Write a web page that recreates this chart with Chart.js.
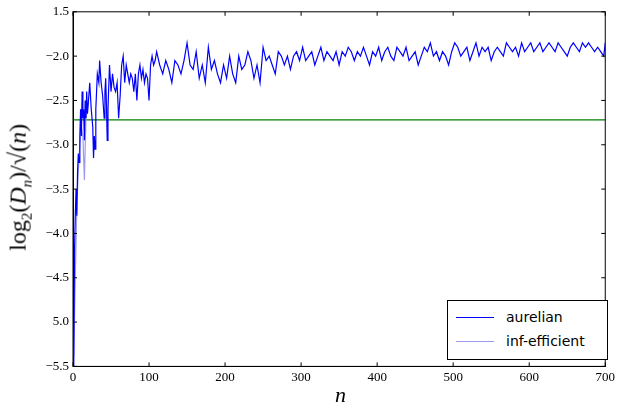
<!DOCTYPE html>
<html><head><meta charset="utf-8">
<script src="https://cdn.jsdelivr.net/npm/chart.js@4"></script>
<style>
body{margin:0;background:#fff;width:618px;height:410px;position:relative;overflow:hidden}
#wrap{position:absolute;left:0;top:0;width:618px;height:410px}
.t{position:absolute;font-family:"Liberation Serif","DejaVu Serif",serif;color:#000}
#leg{position:absolute;left:447px;top:300px;width:161px;height:60px;border:1px solid #000;background:#fff;font-family:"DejaVu Sans",sans-serif;font-size:14px;box-sizing:border-box}
#leg div{position:absolute;left:8px;display:flex;align-items:center}
#leg span.l{display:inline-block;width:38px;height:0;border-top:1.5px solid;margin-right:12px}
</style></head><body>
<div id="wrap"><canvas id="c" width="618" height="410"></canvas></div>
<div class="t" style="left:-80px;top:172px;width:200px;text-align:center;transform:rotate(-90deg);font-size:24px">log<sub style="font-size:15px">2</sub>(<i>D<sub style="font-size:15px">n</sub></i>)/√(<i>n</i>)</div>
<div class="t" style="left:335px;top:382px;font-size:22px"><i>n</i></div>
<div id="leg">
<div style="top:8px"><span class="l" style="border-color:#0000ff"></span>aurelian</div>
<div style="top:32px"><span class="l" style="border-color:#9a9af0"></span>inf-efficient</div>
</div>
<script>
const aurelianN=[1,2,3,4,5,6,7,8,9,10,11,12,13,14,15,16,17,18,19,20,22,24,26,27,28,29,30,32,34,35,37,39,41,42,43,44,45,46,48,50,52,54,56,58,60,62,64,66,68,70,72,74,76,78,80,82,84,86,88,90,92,94,96,98,100,102,104,106,108,110,
114,118,122,126,130,134,138,142,146,150,154,158,162,166,170,174,178,182,186,190,194,198,202,206,210,214,218,222,226,230,234,238,242,246,250,254,258,262,266,270,274,278,282,286,290,294,298,302,306,310,314,318,322,326,330,334,338,342,346,350,354,358,362,366,370,374,378,382,386,390,394,398,402,406,410,414,418,422,426,430,434,438,442,446,450,454,458,462,466,470,474,478,482,486,490,494,498,502,506,510,514,518,522,526,530,534,538,542,546,550,554,558,562,566,570,574,578,582,586,590,594,598,602,606,610,614,618,622,626,630,634,638,642,646,650,654,658,662,666,670,674,678,682,686,690,694,698,700];
const aurelianY=[-5.5,-4.2,-3.8,-3.5,-3.8,-3.3,-3.1,-3.2,-2.9,-2.6,-2.9,-2.4,-2.7,-2.6,-2.95,-2.5,-2.7,-2.4,-2.65,-2.55,-2.3,-2.6,-2.8,-3.15,-2.9,-3.05,-2.6,-2.2,-2.3,-2.05,-2.3,-2.45,-2.7,-2.4,-2.25,-2.55,-2.95,-2.6,-2.1,-2.4,-2.2,-2.35,-2.4,-2.3,-2.7,-2.45,-2.1,-2.0,-2.3,-2.1,-2.2,-2.3,-2.2,-2.25,-2.4,-2.2,-2.5,-2.2,-2.1,-2.25,-2.15,-2.3,-2.2,-2.25,-2.5,-2.1,-2.0,-2.1,-2.05,-1.95,
-2.1,-2.2,-2.05,-2.15,-2.3,-2.05,-2.1,-2.2,-2.05,-1.85,-2.1,-2.15,-1.95,-2.25,-2.1,-2.3,-1.9,-2.15,-2.05,-2.2,-2.3,-2.1,-2.25,-2.0,-2.2,-2.3,-2.0,-2.15,-2.1,-1.95,-2.05,-2.25,-2.1,-2.3,-1.9,-2.05,-2.0,-2.1,-2.2,-1.95,-2.0,-2.1,-2.0,-2.15,-2.0,-1.95,-2.05,-1.9,-2.05,-2.0,-1.95,-2.1,-2.0,-1.9,-2.05,-1.95,-2.0,-2.05,-1.95,-2.1,-1.95,-2.0,-1.9,-1.95,-2.05,-1.95,-2.0,-1.9,-2.0,-2.1,-1.95,-2.0,-1.9,-2.05,-1.95,-1.9,-2.0,-2.05,-1.9,-1.95,-2.0,-1.9,-2.05,-2.0,-1.95,-2.1,-2.0,-1.9,-1.95,-1.85,-2.0,-1.95,-2.05,-1.95,-2.0,-2.1,-1.95,-1.85,-1.9,-2.0,-1.95,-1.9,-2.05,-1.95,-1.85,-2.0,-1.9,-1.95,-1.9,-2.05,-1.95,-1.9,-1.95,-2.0,-1.85,-1.9,-1.95,-1.9,-2.0,-1.85,-1.95,-1.9,-1.85,-1.95,-1.9,-1.85,-1.95,-1.9,-1.85,-1.9,-1.95,-1.85,-1.9,-1.95,-2.0,-1.9,-1.85,-1.9,-1.95,-1.85,-1.9,-1.85,-1.9,-1.95,-1.9,-1.95,-2.0,-1.85,-1.9,-1.85,-1.88,-1.85];
const infN=[1,3,5,7,9,11,13,15,17,19];
const infY=[-5.4,-4.5,-3.7,-3.3,-3.0,-2.8,-2.9,-3.4,-2.7,-2.6];
const baseline=-2.72;
const yTicks=[-1.5,-2.0,-2.5,-3.0,-3.5,-4.0,-4.5,-5.0,-5.5];
const yTickLabels=["1.5","\u22122.0","\u22122.5","\u22123.0","\u22123.5","\u22124.0","\u22124.5","5.0","\u22125.5"];
const xTicks=[0,100,200,300,400,500,600,700];

new Chart(document.getElementById('c'),{
type:'line',
data:{datasets:[
{data:aurelianN.map((n,i)=>({x:n,y:aurelianY[i]})),borderColor:'#0000ff',borderWidth:1.2,pointRadius:0,tension:0},
{data:infN.map((n,i)=>({x:n,y:infY[i]})),borderColor:'#9a9af0',borderWidth:1.2,pointRadius:0,tension:0},
{data:[{x:0,y:baseline},{x:700,y:baseline}],borderColor:'#008000',borderWidth:1.2,pointRadius:0}
]},
options:{responsive:false,animation:false,
layout:{padding:{left:0,right:7,top:1,bottom:22}},
plugins:{legend:{display:false},tooltip:{enabled:false}},
scales:{
x:{type:'linear',min:0,max:700,afterBuildTicks:a=>{a.ticks=xTicks.map(v=>({value:v}));},
 grid:{display:false,drawTicks:false},border:{color:'#000',width:1},
 ticks:{color:'#000',font:{family:'Liberation Serif',size:13},padding:3}},
y:{min:-5.5,max:-1.5,afterBuildTicks:a=>{a.ticks=yTicks.map(v=>({value:v}));},
 afterFit:a=>{a.width=73;},
 grid:{display:false,drawTicks:false},border:{color:'#000',width:1},
 ticks:{color:'#000',font:{family:'Liberation Serif',size:13},padding:4,callback:(v)=>{const i=yTicks.findIndex(t=>Math.abs(t-v)<1e-6);return i>=0?yTickLabels[i]:'';}}}
}},
plugins:[{id:'frame',afterDraw(c){const{ctx,chartArea:a,scales}=c;ctx.save();ctx.strokeStyle='#000';ctx.lineWidth=1;ctx.strokeRect(a.left,a.top,a.right-a.left,a.bottom-a.top);
ctx.beginPath();xTicks.forEach(v=>{const x=scales.x.getPixelForValue(v);ctx.moveTo(x,a.bottom);ctx.lineTo(x,a.bottom-4);ctx.moveTo(x,a.top);ctx.lineTo(x,a.top+4);});
yTicks.forEach(v=>{const y=scales.y.getPixelForValue(v);ctx.moveTo(a.left,y);ctx.lineTo(a.left+4,y);ctx.moveTo(a.right,y);ctx.lineTo(a.right-4,y);});ctx.stroke();ctx.restore();}}]
});
</script></body></html>
